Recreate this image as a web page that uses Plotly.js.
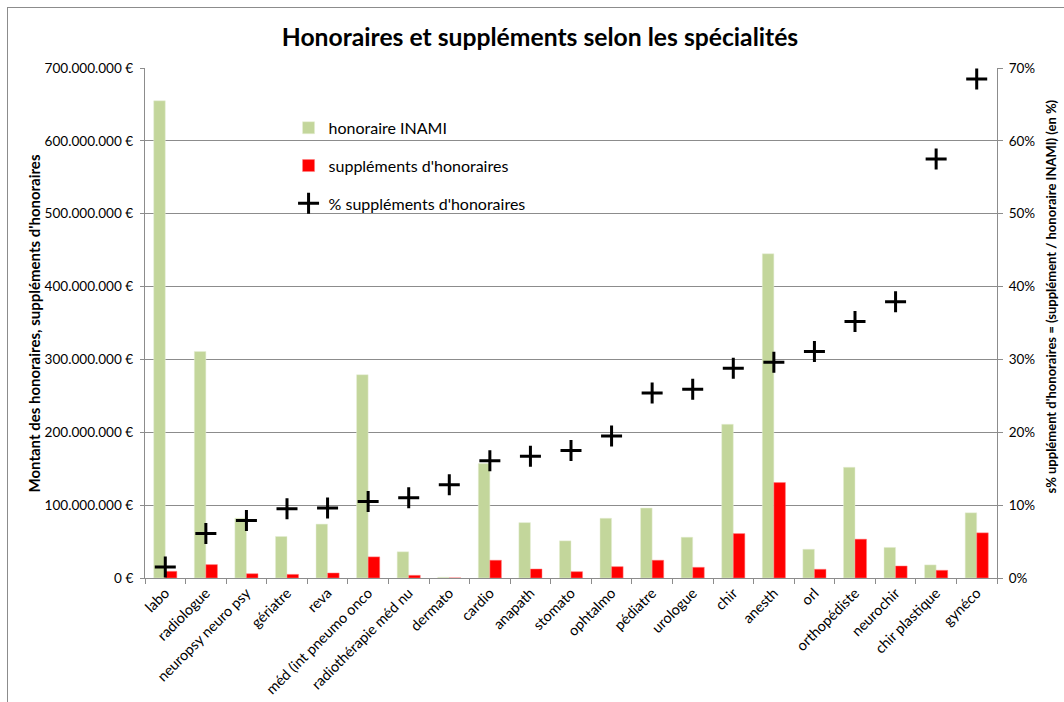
<!DOCTYPE html>
<html>
<head>
<meta charset="utf-8">
<script src="https://cdn.plot.ly/plotly-3.0.1.min.js"></script>
<style>
  html, body { margin: 0; padding: 0; background: #fff; }
  #wrap { position: relative; width: 1064px; height: 702px; overflow: hidden; }
  #frame { position: absolute; left: 7px; top: 7px; width: 1100px; height: 800px;
           border-left: 1px solid #8c8c8c; border-top: 1px solid #8c8c8c; pointer-events: none; }
  #chart { position: absolute; left: 0; top: 0; width: 1064px; height: 702px; }
</style>
</head>
<body>
<div id="wrap">
  <div id="chart"></div>
  <div id="frame"></div>
</div>
<script>
const categories = ['labo', 'radiologue', 'neuropsy neuro psy', 'gériatre', 'reva',
  'méd (int pneumo onco', 'radiothérapie méd nu', 'dermato', 'cardio', 'anapath',
  'stomato', 'ophtalmo', 'pédiatre', 'urologue', 'chir', 'anesth', 'orl',
  'orthopédiste', 'neurochir', 'chir plastique', 'gynéco'];

const honoraireINAMI = [655000000, 311000000, 82000000, 57000000, 74000000,
  279000000, 36000000, 1000000, 157000000, 76000000,
  51000000, 82000000, 96000000, 56000000, 211000000, 445000000, 39500000,
  152000000, 42000000, 18000000, 89500000];

const supplements = [9200000, 18400000, 5900000, 5000000, 6900000,
  29000000, 3700000, 130000, 24400000, 12400000,
  8700000, 15600000, 24400000, 14700000, 61000000, 131000000, 12000000,
  53300000, 16500000, 10600000, 62000000];

const pctSupplements = [1.5, 6.1, 7.9, 9.5, 9.6,
  10.5, 11.0, 12.8, 16.1, 16.7,
  17.5, 19.5, 25.4, 25.9, 28.8, 29.6, 31.1,
  35.2, 37.9, 57.5, 68.5];

const leftAxisMax = 700000000, leftAxisStep = 100000000;
const rightAxisMax = 70, rightAxisStep = 10;

const FONT = 'Lato, "Open Sans", sans-serif';
const GRID = '#8c8c8c';

const traces = [
  {
    type: 'bar', name: 'honoraire INAMI', x: categories, y: honoraireINAMI,
    marker: { color: '#c3d69b', line: { color: '#e6eed6', width: 0.5 } },
    legendgroup: 'a', yaxis: 'y'
  },
  {
    type: 'bar', name: "suppléments d'honoraires", x: categories, y: supplements,
    marker: { color: '#ff0000', line: { color: '#ff8080', width: 0.5 } },
    legendgroup: 'b', yaxis: 'y'
  },
  {
    type: 'scatter', mode: 'markers', name: "% suppléments d'honoraires",
    x: categories, y: pctSupplements, yaxis: 'y2',
    marker: { symbol: 'cross-thin-open', size: 15, color: '#000',
              line: { color: '#000', width: 3 } },
    legendgroup: 'c'
  }
];

const layout = {
  width: 1064, height: 702,
  paper_bgcolor: 'rgba(0,0,0,0)', plot_bgcolor: '#fff',
  margin: { l: 145, r: 67, t: 68, b: 124 },
  font: { family: FONT, size: 13, color: '#000' },
  separators: ',.',
  barmode: 'group', bargap: 0.43, bargroupgap: 0,
  showlegend: true,
  title: {
    text: '<b>Honoraires et suppléments selon les spécialités</b>',
    font: { family: FONT, size: 24.7, color: '#000' },
    x: 0.5075, xref: 'container', xanchor: 'center',
    y: 0.947, yref: 'container', yanchor: 'middle'
  },
  legend: {
    x: 0.1685, y: 0.916, xanchor: 'left', yanchor: 'top',
    bgcolor: 'rgba(255,255,255,0)', borderwidth: 0,
    font: { family: FONT, size: 16, color: '#000' },
    tracegroupgap: 14, itemwidth: 30
  },
  xaxis: {
    type: 'category', tickangle: -45, range: [-0.5, categories.length - 0.5],
    showline: true, linecolor: GRID, linewidth: 1,
    ticks: 'outside', tickson: 'boundaries', ticklen: 5, tickcolor: GRID,
    showgrid: false, tickfont: { family: FONT, size: 14.5, color: '#000' },
    automargin: false
  },
  yaxis: {
    range: [0, leftAxisMax], tickmode: 'linear', tick0: 0, dtick: leftAxisStep,
    tickformat: ',d', ticksuffix: ' €', showticksuffix: 'all',
    showline: true, linecolor: GRID, linewidth: 1,
    ticks: 'outside', ticklen: 4, tickcolor: GRID, ticklabelstandoff: 4,
    showgrid: true, gridcolor: GRID, gridwidth: 1, zeroline: false,
    tickfont: { family: FONT, size: 13.6, color: '#000' },
    automargin: false
  },
  yaxis2: {
    overlaying: 'y', side: 'right', range: [0, rightAxisMax],
    tickmode: 'linear', tick0: 0, dtick: rightAxisStep,
    ticksuffix: '%', showticksuffix: 'all',
    showline: true, linecolor: GRID, linewidth: 1,
    ticks: 'outside', ticklen: 5, tickcolor: GRID, ticklabelstandoff: 3,
    showgrid: false, zeroline: false,
    tickfont: { family: FONT, size: 13.5, color: '#000' },
    automargin: false
  },
  annotations: [
    {
      text: "<b>Montant des honoraires, suppléments d'honoraires</b>",
      xref: 'paper', yref: 'paper', x: -0.1297, y: 0.5,
      xanchor: 'center', yanchor: 'middle', textangle: -90, showarrow: false,
      font: { family: FONT, size: 15, color: '#000' }
    },
    {
      text: "<b>s% upplément d'honoraires = (supplément / honoraire INAMI) (en %)</b>",
      xref: 'paper', yref: 'paper', x: 1.0628, y: 0.551,
      xanchor: 'center', yanchor: 'middle', textangle: -90, showarrow: false,
      font: { family: FONT, size: 13, color: '#000' }
    }
  ]
};

Plotly.newPlot('chart', traces, layout, { displayModeBar: false, staticPlot: true });
</script>
</body>
</html>
